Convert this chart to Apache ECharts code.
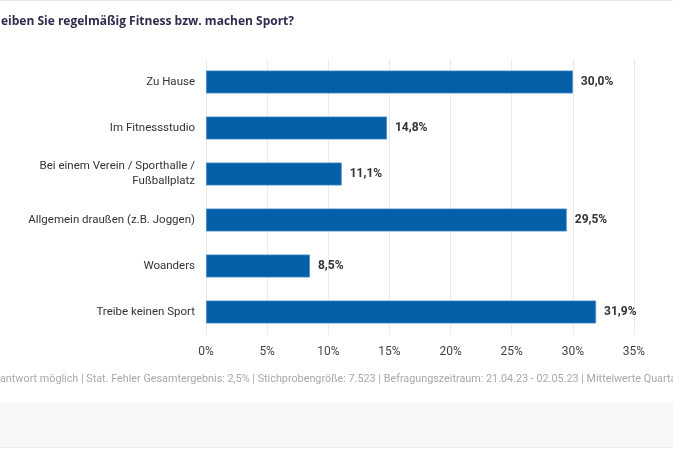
<!DOCTYPE html>
<html><head><meta charset="utf-8">
<script src="https://cdn.jsdelivr.net/npm/echarts@6/dist/echarts.min.js"></script>
<style>html,body{margin:0;padding:0;background:#fff}#c{width:673px;height:449px}</style>
</head><body><div id="c"></div>
<script>
var categories = ["Zu Hause", "Im Fitnessstudio", "Bei einem Verein / Sporthalle /\nFußballplatz", "Allgemein draußen (z.B. Joggen)", "Woanders", "Treibe keinen Sport"];
var values = [30.0, 14.8, 11.1, 29.5, 8.5, 31.9];
var titleText = "eiben Sie regelmäßig Fitness bzw. machen Sport?";
var footerText = "antwort möglich | Stat. Fehler Gesamtergebnis: 2,5% | Stichprobengröße: 7.523 | Befragungszeitraum: 21.04.23 - 02.05.23 | Mittelwerte Quartal";

var chart = echarts.init(document.getElementById('c'));
chart.setOption({
  animation: false,
  backgroundColor: '#fff',
  grid: { left: 206, right: 39, top: 59, bottom: 114, containLabel: false },
  xAxis: {
    type: 'value', min: 0, max: 35, interval: 5,
    axisLine: { show: false }, axisTick: { show: false },
    splitLine: { lineStyle: { color: '#ebebeb', width: 1 } },
    axisLabel: { formatter: '{value}%', color: '#444', fontFamily: 'Roboto', fontSize: 12, margin: 11 }
  },
  yAxis: {
    type: 'category', data: categories, inverse: true,
    axisLine: { show: false }, axisTick: { show: false },
    axisLabel: { color: '#333', fontFamily: 'Roboto', fontSize: 11.5, margin: 11, lineHeight: 15, align: 'right' }
  },
  series: [{
    type: 'bar', data: values, barWidth: 23,
    itemStyle: { color: '#045ea8', borderColor: '#4d8fca', borderWidth: 0.8 },
    label: {
      show: true, position: 'right', distance: 8, color: '#333', fontFamily: 'Roboto', fontSize: 12, fontWeight: 'bold',
      formatter: function (p) { return p.value.toFixed(1).replace('.', ',') + '%'; }
    }
  }],
  graphic: [
    { type: 'rect', shape: { x: 0, y: 0, width: 673, height: 1 }, style: { fill: '#e6e6e6' } },
    { type: 'text', left: 1, top: 16, style: { text: titleText, fill: '#2e2b4d', font: 'bold 12px "Open Sans", sans-serif' } },
    { type: 'text', left: 0, top: 374, style: { text: footerText, fill: '#a8a8a8', font: '10.8px Roboto, sans-serif' } },
    { type: 'rect', shape: { x: 0, y: 403, width: 673, height: 44 }, style: { fill: '#f8f8f8' } },
    { type: 'rect', shape: { x: 0, y: 447, width: 673, height: 1 }, style: { fill: '#eeeeee' } }
  ]
});
</script></body></html>
